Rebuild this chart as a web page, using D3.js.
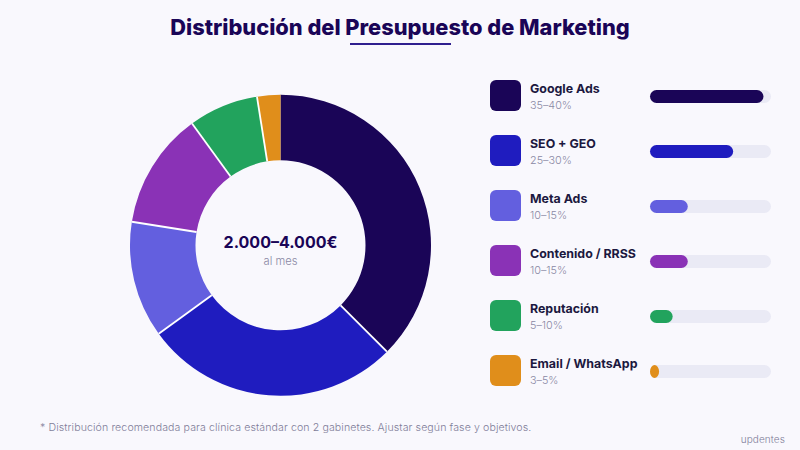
<!DOCTYPE html>
<html><head><meta charset="utf-8">
<script src="https://cdn.jsdelivr.net/npm/d3@7"></script>
<style>html,body{margin:0;padding:0;background:#f9f8fd}svg{display:block}text{font-family:Inter,"Noto Sans",sans-serif}</style>
</head><body><div id="chart"></div>
<script>
const categories=["Google Ads","SEO + GEO","Meta Ads","Contenido / RRSS","Reputación","Email / WhatsApp"];
const shares=[37.5,27.5,12.5,12.5,7.5,2.5];
const barValues=[37.5,27.5,12.5,12.5,7.5,3];
const ranges=["35–40%","25–30%","10–15%","10–15%","5–10%","3–5%"];
const colors=["#1a0557","#1f1cbf","#635fdf","#8a32b6","#22a35d","#e08e1b"];
const titleText="Distribución del Presupuesto de Marketing";
const centerValue="2.000–4.000€";
const centerSub="al mes";
const footnote="* Distribución recomendada para clínica estándar con 2 gabinetes. Ajustar según fase y objetivos.";
const brand="updentes";

const W=800,H=450,innerR=85,outerR=150.5;
const svg=d3.select("#chart").append("svg").attr("width",W).attr("height",H);
svg.append("rect").attr("width",W).attr("height",H).attr("fill","#f9f8fd");

svg.append("text").attr("x",400).attr("y",35).attr("text-anchor","middle")
 .attr("font-size",21.8).attr("font-weight",800).attr("fill","#1a0557").text(titleText);
svg.append("rect").attr("x",350).attr("y",43).attr("width",101).attr("height",2).attr("fill","#2f1f8f");

const pie=d3.pie().sort(null).value(d=>d)(shares);
const arc=d3.arc().innerRadius(innerR).outerRadius(outerR);
const g=svg.append("g").attr("transform","translate(280.5,245.3)");
g.selectAll("path").data(pie).join("path").attr("d",arc).attr("fill",(d,i)=>colors[i]);
g.selectAll("line").data(pie.slice(1)).join("line")
 .attr("x1",d=>d3.pointRadial(d.startAngle,innerR)[0]).attr("y1",d=>d3.pointRadial(d.startAngle,innerR)[1])
 .attr("x2",d=>d3.pointRadial(d.startAngle,outerR)[0]).attr("y2",d=>d3.pointRadial(d.startAngle,outerR)[1])
 .attr("stroke","#ffffff").attr("stroke-width",1.8);

g.append("text").attr("y",3).attr("text-anchor","middle").attr("font-size",16).attr("font-weight",700).attr("fill","#1a0557").text(centerValue);
g.append("text").attr("y",20).attr("text-anchor","middle").attr("font-size",11.2).attr("font-weight",300).attr("fill","#8a88a4").text(centerSub);

const y=d3.scalePoint().domain(categories).range([95.5,370.5]);
const bar=d3.scaleLinear().domain([0,40]).range([0,121]);
const rows=svg.selectAll("g.row").data(categories).join("g").attr("class","row").attr("transform",d=>`translate(0,${y(d)})`);
rows.append("rect").attr("x",490).attr("y",-15.5).attr("width",31).attr("height",31).attr("rx",6).attr("fill",(d,i)=>colors[i]);
rows.append("text").attr("x",530).attr("y",-2.5).attr("font-size",12.4).attr("font-weight",700).attr("fill","#1c1840").text(d=>d);
rows.append("text").attr("x",530).attr("y",13.5).attr("font-size",10.8).attr("font-weight",300).attr("fill","#8a88a4").text((d,i)=>ranges[i]);
rows.append("rect").attr("x",650).attr("y",-5.5).attr("width",121).attr("height",13).attr("rx",6.5).attr("fill","#eaeaf5");
rows.append("rect").attr("x",650).attr("y",-5.5).attr("width",(d,i)=>bar(barValues[i])).attr("height",13).attr("rx",6.5).attr("fill",(d,i)=>colors[i]);

svg.append("text").attr("x",40).attr("y",431).attr("font-size",10.6).attr("font-weight",300).attr("letter-spacing",0.1).attr("fill","#7f7d99").text(footnote);
svg.append("text").attr("x",785).attr("y",443).attr("text-anchor","end").attr("font-size",10).attr("font-weight",300).attr("letter-spacing",0.1).attr("fill","#7f7d99").text(brand);
</script></body></html>
